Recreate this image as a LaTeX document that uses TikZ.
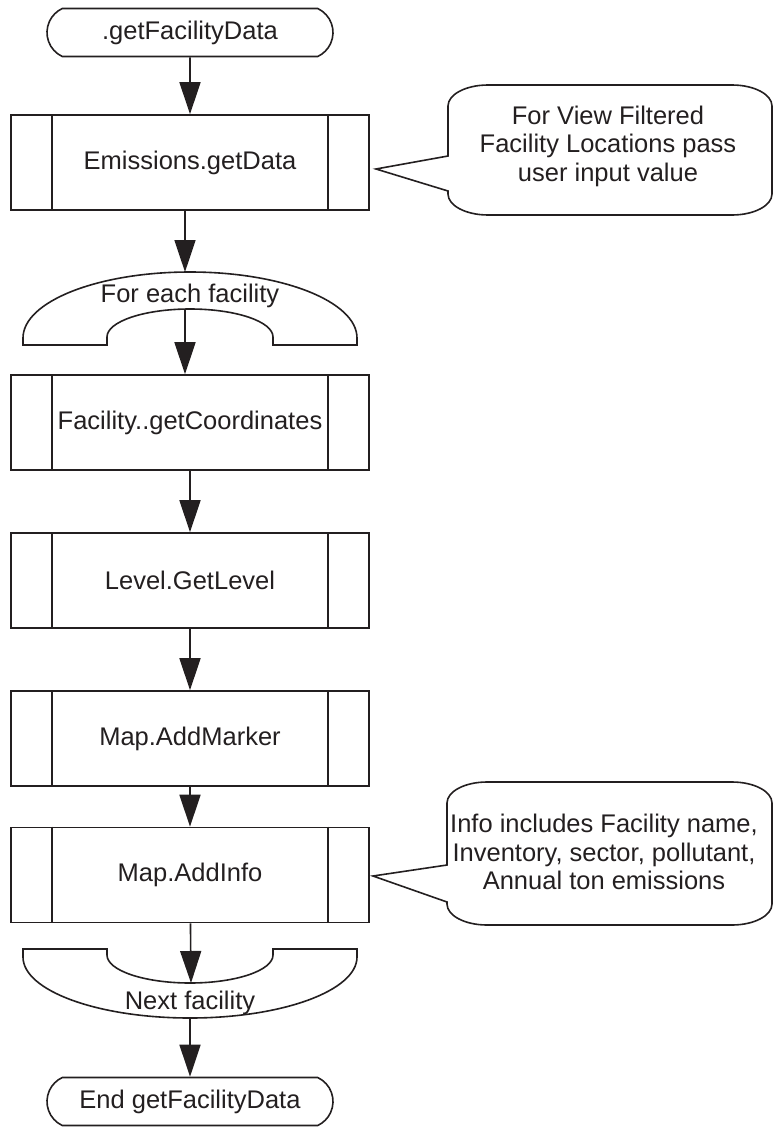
\documentclass[tikz,border=0pt]{standalone}
\usepackage{fontspec}
\setmainfont{Liberation Sans}
\usetikzlibrary{arrows.meta,shapes.misc}
\definecolor{ink}{RGB}{35,31,32}
\begin{document}
\begin{tikzpicture}[x=1pt,y=-1pt,
  every node/.style={font=\fontsize{25.5pt}{28.5pt}\selectfont, text=ink},
  line/.style={draw=ink, line width=1.6pt},
  procbox/.style={line, rectangle, minimum width=358pt, minimum height=95pt, inner sep=0pt},
  terminal/.style={line, rounded rectangle, rounded rectangle arc length=130,
    minimum width=286pt, minimum height=48pt, inner sep=0pt},
  flow/.style={line, -{Triangle[length=32pt,width=21pt]}},
  note/.style={align=center, inner sep=0pt},
  looptext/.style={inner sep=0pt},
]
\useasboundingbox (0,0) rectangle (774,1127);

% start and end terminals
\node[terminal] (start) at (190,32.5) {.getFacilityData};
\node[terminal] (stop) at (190,1101.5) {End getFacilityData};

% predefined-process boxes
\node[procbox] (b1) at (190,162.5) {Emissions.getData};
\node[procbox] (b2) at (190,422.5) {Facility..getCoordinates};
\node[procbox] (b3) at (190,580.5) {Level.GetLevel};
\node[procbox] (b4) at (190,738.5) {Map.AddMarker};
\node[procbox] (b5) at (190,875) {Map.AddInfo};
\foreach \n in {b1,b2,b3,b4,b5}{
  \draw[line] ([xshift=42pt]\n.north west) -- ([xshift=42pt]\n.south west);
  \draw[line] ([xshift=-42pt]\n.north east) -- ([xshift=-42pt]\n.south east);
}

% loop start
\draw[line] (23,345) -- (23,338)
  arc[start angle=180,end angle=360,x radius=167,y radius=66]
  -- (357,345) -- (273,345) -- (273,337)
  arc[start angle=360,end angle=180,x radius=83,y radius=28]
  -- (107,345) -- cycle;
\node[looptext] (loopA) at (190,296) {For each facility};
\coordinate (loopA-top) at (185,272);
\coordinate (loopA-in) at (185,309);

% loop end
\draw[line] (23,949) -- (23,957)
  arc[start angle=180,end angle=0,x radius=167,y radius=61]
  -- (357,949) -- (273,949) -- (273,955)
  arc[start angle=0,end angle=180,x radius=83,y radius=28]
  -- (107,949) -- cycle;
\node[looptext] (loopB) at (190,1003) {Next facility};
\coordinate (loopB-in) at (191,983);
\coordinate (loopB-out) at (190,1018);

% annotation callouts
\draw[line, line join=miter] (376,169) -- (448,156) -- (448,106)
  arc[start angle=180,end angle=270,x radius=40,y radius=21] -- (732,85)
  arc[start angle=270,end angle=360,x radius=40,y radius=21] -- (772,194)
  arc[start angle=0,end angle=90,x radius=40,y radius=21] -- (488,215)
  arc[start angle=90,end angle=180,x radius=40,y radius=21] -- (448,191) -- cycle;
\node[note] (n1) at (608,146) {For View Filtered\\Facility Locations pass\\user input value};

\draw[line, line join=miter] (373,876) -- (447,865) -- (447,803)
  arc[start angle=180,end angle=270,x radius=40,y radius=21] -- (732,782)
  arc[start angle=270,end angle=360,x radius=40,y radius=21] -- (772,904)
  arc[start angle=0,end angle=90,x radius=40,y radius=21] -- (487,925)
  arc[start angle=90,end angle=180,x radius=40,y radius=21] -- (447,902) -- cycle;
\node[note] (n2) at (604,852) {Info includes Facility name,\\Inventory, sector, pollutant,\\Annual ton emissions};

% flow connectors
\draw[flow] (start) -- (b1);
\draw[flow] ([xshift=-5pt]b1.south) -- (loopA-top);
\draw[flow] (loopA-in) -- ([xshift=-5pt]b2.north);
\draw[flow] (b2) -- (b3);
\draw[flow] (b3) -- (b4);
\draw[flow] (b4) -- (b5);
\draw[flow] (b5) -- (loopB-in);
\draw[flow] (loopB-out) -- (stop);
\end{tikzpicture}
\end{document}
